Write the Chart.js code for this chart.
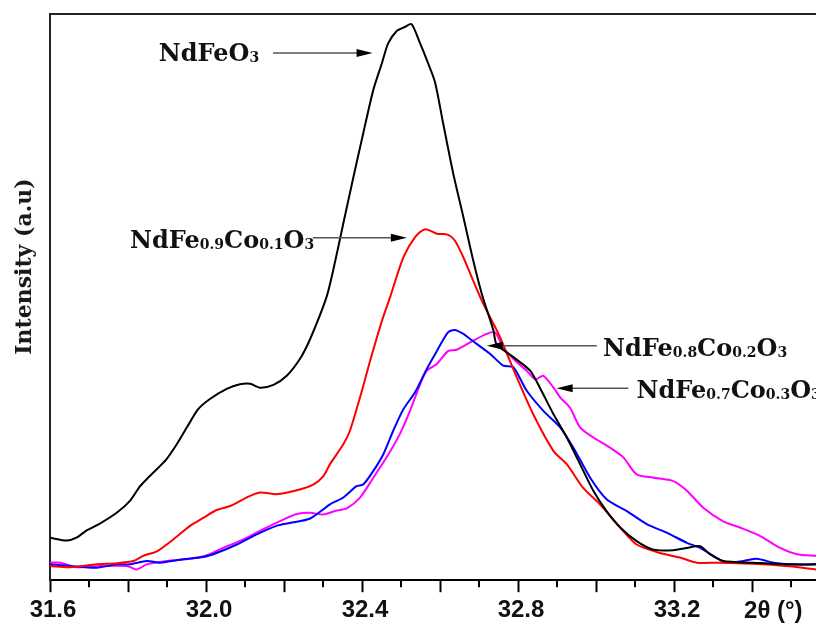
<!DOCTYPE html>
<html>
<head>
<meta charset="utf-8">
<script src="https://cdn.jsdelivr.net/npm/chart.js@4.4.1/dist/chart.umd.min.js"></script>
<style>
  html, body { margin: 0; padding: 0; background: #fff; }
  #wrap { width: 816px; height: 623px; position: relative; }
</style>
</head>
<body>
<div id="wrap"><canvas id="xrd"></canvas></div>
<script>
// 2θ (deg) and intensity (a.u., 0-100)
const feX = [31.600, 31.643, 31.668, 31.694, 31.728, 31.771, 31.805, 31.831, 31.856, 31.899, 31.925, 31.951, 31.980, 32.010, 32.053, 32.087, 32.113, 32.138, 32.173, 32.207, 32.241, 32.267, 32.309, 32.326, 32.352, 32.378, 32.403, 32.429, 32.451, 32.467, 32.489, 32.510, 32.527, 32.549, 32.566, 32.587, 32.608, 32.634, 32.660, 32.685, 32.707, 32.737, 32.745, 32.788, 32.831, 32.856, 32.891, 32.925, 32.959, 32.993, 33.027, 33.062, 33.104, 33.147, 33.198, 33.233, 33.267, 33.292, 33.326, 33.403, 33.489, 33.564];
const feY = [7.5, 7.0, 7.5, 8.8, 10.0, 11.9, 14.0, 16.6, 18.4, 21.4, 24.0, 27.0, 30.2, 32.0, 33.8, 34.6, 34.7, 34.0, 34.5, 36.1, 39.1, 42.6, 50.0, 54.7, 63.0, 71.2, 78.9, 86.6, 91.3, 94.8, 97.0, 97.7, 98.2, 94.8, 91.9, 88.0, 80.7, 71.8, 64.1, 56.5, 50.6, 44.1, 41.7, 39.4, 37.0, 34.0, 29.3, 25.2, 20.5, 15.8, 12.2, 9.3, 6.9, 5.4, 5.3, 5.7, 6.0, 4.6, 3.4, 3.1, 2.8, 2.8];

const co1X = [31.600, 31.651, 31.720, 31.771, 31.814, 31.839, 31.874, 31.916, 31.959, 31.993, 32.027, 32.062, 32.104, 32.138, 32.181, 32.233, 32.275, 32.301, 32.318, 32.352, 32.369, 32.395, 32.421, 32.451, 32.472, 32.506, 32.536, 32.562, 32.592, 32.621, 32.638, 32.660, 32.685, 32.711, 32.737, 32.754, 32.797, 32.839, 32.891, 32.925, 32.967, 33.010, 33.062, 33.104, 33.164, 33.215, 33.258, 33.318, 33.403, 33.489, 33.564];
const co1Y = [2.5, 2.3, 2.8, 3.0, 3.4, 4.3, 5.1, 7.2, 9.6, 11.0, 12.4, 13.1, 14.6, 15.5, 15.2, 15.9, 16.9, 18.4, 20.5, 24.0, 26.4, 32.3, 38.8, 45.8, 50.0, 57.0, 60.6, 62.0, 61.2, 61.0, 60.0, 57.0, 52.9, 48.8, 45.3, 42.9, 35.8, 29.3, 22.8, 20.5, 16.3, 13.4, 9.3, 6.3, 4.8, 4.0, 3.1, 3.1, 2.9, 2.5, 1.9];

const co2X = [31.600, 31.651, 31.720, 31.771, 31.805, 31.848, 31.882, 31.942, 31.993, 32.027, 32.079, 32.130, 32.181, 32.215, 32.267, 32.318, 32.352, 32.386, 32.403, 32.429, 32.455, 32.480, 32.506, 32.536, 32.566, 32.592, 32.621, 32.638, 32.660, 32.677, 32.728, 32.762, 32.788, 32.822, 32.865, 32.908, 32.942, 32.985, 33.027, 33.079, 33.130, 33.181, 33.233, 33.267, 33.301, 33.335, 33.378, 33.412, 33.455, 33.506, 33.564];
const co2Y = [2.8, 2.5, 2.2, 2.8, 2.8, 3.4, 3.1, 3.7, 4.1, 4.8, 6.3, 8.1, 9.6, 10.1, 10.9, 13.4, 14.6, 16.6, 16.9, 19.3, 22.3, 26.4, 30.2, 33.2, 37.3, 40.5, 43.8, 44.2, 43.5, 42.6, 40.0, 37.9, 37.6, 33.5, 29.9, 27.0, 23.4, 18.1, 14.3, 12.2, 9.9, 8.4, 6.6, 5.7, 4.3, 3.1, 3.4, 3.8, 3.1, 2.8, 2.8];

const co3X = [31.600, 31.626, 31.668, 31.728, 31.797, 31.822, 31.848, 31.899, 31.959, 32.002, 32.044, 32.096, 32.147, 32.198, 32.233, 32.267, 32.301, 32.335, 32.361, 32.395, 32.429, 32.463, 32.497, 32.523, 32.549, 32.566, 32.592, 32.621, 32.643, 32.685, 32.720, 32.741, 32.762, 32.788, 32.822, 32.844, 32.865, 32.891, 32.908, 32.933, 32.959, 32.993, 33.036, 33.070, 33.104, 33.147, 33.198, 33.233, 33.275, 33.326, 33.369, 33.421, 33.472, 33.515, 33.564];
const co3Y = [3.1, 3.1, 2.3, 2.5, 2.5, 1.9, 2.8, 3.4, 3.8, 4.4, 5.7, 7.2, 9.0, 10.7, 11.7, 11.9, 11.6, 12.3, 12.7, 14.6, 18.1, 21.7, 25.8, 29.9, 34.6, 37.0, 38.2, 40.5, 40.7, 42.3, 43.5, 43.8, 41.1, 39.1, 37.0, 35.5, 36.1, 34.0, 32.3, 30.5, 27.0, 25.2, 23.4, 21.7, 18.7, 18.1, 17.5, 15.8, 12.8, 10.4, 9.3, 7.8, 5.7, 4.6, 4.3];

const seriesNames = ['NdFeO3', 'NdFe0.9Co0.1O3', 'NdFe0.8Co0.2O3', 'NdFe0.7Co0.3O3'];
const seriesColors = ['#000000', '#ff0000', '#0000ff', '#ff00ff'];
const xTickLabels = ['31.6', '32.0', '32.4', '32.8', '33.2'];
const xAxisLabel = '2θ (°)';
const yAxisLabel = 'Intensity (a.u)';

// labels with arrows, [text, isSubscript] pieces; positions in data units
const notes = [
    { parts: [['NdFeO', 0], ['3', 1]], x: 31.879, y: 93.3, from: [32.172, 93.1], to: [32.427, 93.1] },
    { parts: [['NdFe', 0], ['0.9', 1], ['Co', 0], ['0.1', 1], ['O', 0], ['3', 1]], x: 31.805, y: 60.3, from: [32.274, 60.5], to: [32.515, 60.5] },
    { parts: [['NdFe', 0], ['0.8', 1], ['Co', 0], ['0.2', 1], ['O', 0], ['3', 1]], x: 33.018, y: 41.1, from: [33.002, 41.4], to: [32.720, 41.4] },
    { parts: [['NdFe', 0], ['0.7', 1], ['Co', 0], ['0.3', 1], ['O', 0], ['3', 1]], x: 33.104, y: 33.8, from: [33.083, 33.9], to: [32.899, 33.9] }
];

function zip(xs, ys) {
    return xs.map((x, i) => ({ x: x, y: ys[i] }));
}

const xrdExtras = {
    id: 'xrdExtras',
    afterDraw(chart) {
        const ctx = chart.ctx;
        const area = chart.chartArea;
        const xs = chart.scales.x;
        const ys = chart.scales.y;
        ctx.save();

        // top frame line
        ctx.strokeStyle = '#222';
        ctx.lineWidth = 2;
        ctx.beginPath();
        ctx.moveTo(area.left - 1, area.top);
        ctx.lineTo(area.right, area.top);
        ctx.stroke();

        // minor ticks at the odd tenths
        ctx.strokeStyle = '#000';
        ctx.lineWidth = 2;
        for (let v = xs.min + 0.1; v < xs.max; v += 0.2) {
            const px = xs.getPixelForValue(v);
            ctx.beginPath();
            ctx.moveTo(px, area.bottom);
            ctx.lineTo(px, area.bottom + 7);
            ctx.stroke();
        }

        // axis name in place of the 33.4 label
        ctx.fillStyle = '#111';
        ctx.font = 'bold 24px "Liberation Sans", Arial, sans-serif';
        ctx.textAlign = 'left';
        ctx.textBaseline = 'middle';
        ctx.fillText(xAxisLabel, xs.getPixelForValue(33.4) - 8, area.bottom + 31);

        // y title
        ctx.save();
        ctx.translate(area.left - 25, ys.getPixelForValue(55.4));
        ctx.rotate(-Math.PI / 2);
        ctx.textAlign = 'center';
        ctx.textBaseline = 'middle';
        ctx.font = 'bold 22px "DejaVu Serif", serif';
        ctx.fillStyle = '#1a1a1a';
        ctx.fillText(yAxisLabel, 0, 0);
        ctx.restore();

        // annotations
        notes.forEach(n => {
            const x1 = xs.getPixelForValue(n.from[0]);
            const x2 = xs.getPixelForValue(n.to[0]);
            const y1 = ys.getPixelForValue(n.from[1]);
            const dir = x2 > x1 ? 1 : -1;
            ctx.strokeStyle = '#555';
            ctx.lineWidth = 1.5;
            ctx.beginPath();
            ctx.moveTo(x1, y1);
            ctx.lineTo(x2 - dir * 10, y1);
            ctx.stroke();
            ctx.fillStyle = '#000';
            ctx.beginPath();
            ctx.moveTo(x2, y1);
            ctx.lineTo(x2 - dir * 16, y1 - 4);
            ctx.lineTo(x2 - dir * 16, y1 + 4);
            ctx.closePath();
            ctx.fill();

            let tx = xs.getPixelForValue(n.x);
            const base = ys.getPixelForValue(n.y) + 9;
            ctx.textAlign = 'left';
            ctx.textBaseline = 'alphabetic';
            ctx.fillStyle = '#111';
            n.parts.forEach(p => {
                ctx.font = p[1] ? 'bold 14px "DejaVu Serif", serif' : 'bold 24px "DejaVu Serif", serif';
                ctx.fillText(p[0], tx, base + (p[1] ? 1 : 0));
                tx += ctx.measureText(p[0]).width;
            });
        });

        ctx.restore();
    }
};

const datasets = [zip(feX, feY), zip(co1X, co1Y), zip(co2X, co2Y), zip(co3X, co3Y)].map((pts, i) => ({
    label: seriesNames[i],
    data: pts,
    borderColor: seriesColors[i],
    borderWidth: 2,
    pointRadius: 0,
    tension: 0.25,
    fill: false
}));

new Chart(document.getElementById('xrd'), {
    type: 'line',
    data: { datasets: datasets },
    options: {
        responsive: true,
        maintainAspectRatio: false,
        animation: false,
        layout: { padding: { left: 50, top: 14, right: 0, bottom: -6 } },
        plugins: {
            legend: { display: false },
            tooltip: { enabled: false }
        },
        scales: {
            x: {
                type: 'linear',
                min: 31.6,
                max: 33.564,
                border: { color: '#000', width: 2 },
                grid: { drawOnChartArea: false, tickLength: 12, tickWidth: 2, tickColor: '#000' },
                ticks: {
                    stepSize: 0.2,
                    autoSkip: false,
                    includeBounds: false,
                    maxRotation: 0,
                    minRotation: 0,
                    padding: 4,
                    labelOffset: 3,
                    color: '#111',
                    font: { family: '"Liberation Sans", Arial, sans-serif', size: 24, weight: 'bold' },
                    callback: v => {
                        const s = Number(v).toFixed(1);
                        return xTickLabels.includes(s) ? s : '';
                    }
                }
            },
            y: {
                min: 0,
                max: 100,
                border: { color: '#222', width: 2 },
                grid: { display: false, drawTicks: false },
                ticks: { display: false }
            }
        }
    },
    plugins: [xrdExtras]
});
</script>
</body>
</html>
